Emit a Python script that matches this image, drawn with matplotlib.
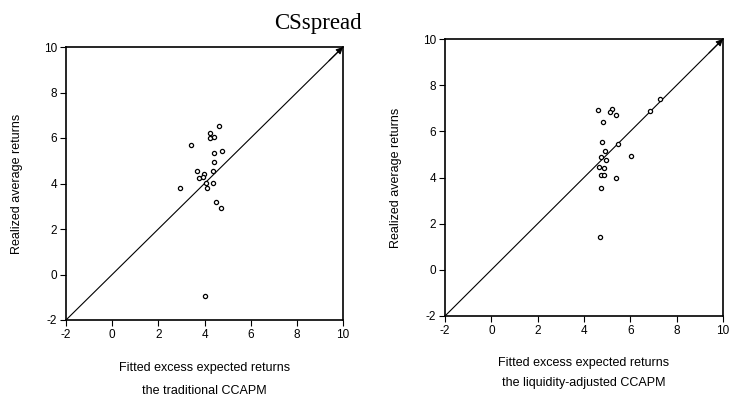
import matplotlib
matplotlib.use("Agg")
import matplotlib.pyplot as plt

# Left panel: traditional CCAPM
trad_fitted = [4.62, 4.24, 4.22, 4.41, 3.41, 4.41, 4.74, 4.42, 3.66, 4.35,
               3.96, 3.77, 3.93, 4.06, 4.35, 4.09, 2.95, 4.48, 4.71, 4.02]
trad_realized = [6.51, 6.24, 5.99, 6.04, 5.69, 5.36, 5.42, 4.95, 4.57, 4.57,
                 4.42, 4.26, 4.28, 4.01, 4.01, 3.81, 3.82, 3.19, 2.94, -0.96]

# Right panel: liquidity-adjusted CCAPM
liq_fitted = [7.30, 6.85, 4.60, 5.23, 5.13, 5.39, 4.84, 4.78, 5.48, 4.90,
              6.01, 4.74, 4.94, 4.66, 4.86, 4.73, 4.87, 5.38, 4.74, 4.67]
liq_realized = [7.40, 6.88, 6.92, 6.95, 6.83, 6.72, 6.40, 5.52, 5.46, 5.14,
                4.94, 4.90, 4.75, 4.45, 4.39, 4.10, 4.10, 3.96, 3.53, 1.41]

lims = [-2, 10]
ticks = [-2, 0, 2, 4, 6, 8, 10]
tick_labels = ["-2", "0", "2", "4", "6", "8", "10"]

W, H = 732, 401
fig = plt.figure(figsize=(W / 100, H / 100), dpi=100)
plt.rcParams['font.family'] = ['Liberation Sans', 'DejaVu Sans']

def px_axes(x0, y0, x1, y1):
    return fig.add_axes([x0 / W, 1 - y1 / H, (x1 - x0) / W, (y1 - y0) / H])

panels = [
    (px_axes(66, 47, 343, 320), trad_fitted, trad_realized,
     "the traditional CCAPM", 17, 368, 391),
    (px_axes(445, 39, 723, 316), liq_fitted, liq_realized,
     "the liquidity-adjusted CCAPM", 396, 363, 383),
]

for ax, xs, ys, sub, ylab_x, l1, l2 in panels:
    ax.plot(lims, lims, color="black", lw=0.8, zorder=2)
    ax.annotate("", xy=(lims[1], lims[1]), xytext=(lims[1] - 0.6, lims[1] - 0.6),
                arrowprops=dict(arrowstyle="-|>", color="black", lw=0.8,
                                mutation_scale=10, shrinkA=0, shrinkB=0),
                annotation_clip=False, zorder=3)
    ax.plot(xs, ys, linestyle="none", marker="o", markersize=3.0,
            markerfacecolor="white", markeredgecolor="black",
            markeredgewidth=0.9, zorder=4)
    ax.set_xlim(lims)
    ax.set_ylim(lims)
    ax.set_xticks(ticks)
    ax.set_xticklabels(tick_labels)
    ax.set_yticks(ticks)
    ax.set_yticklabels(tick_labels)
    ax.tick_params(axis="both", direction="out", length=4, width=0.8,
                   labelsize=8.5, pad=2.5, colors="black")
    for s in ax.spines.values():
        s.set_linewidth(1.2)
        s.set_color("black")
    cx = (ax.get_position().x0 + ax.get_position().x1) / 2
    fig.text(cx, 1 - l1 / H, "Fitted excess expected returns", ha="center",
             va="center", fontsize=9)
    fig.text(cx, 1 - l2 / H, sub, ha="center", va="center", fontsize=9)
    cy = (ax.get_position().y0 + ax.get_position().y1) / 2
    fig.text(ylab_x / W, cy, "Realized average returns", rotation=90,
             ha="center", va="center", fontsize=9)

fig.text(318 / W, 1 - 29 / H, "CSspread", ha="center", va="baseline",
         fontsize=16.5, family=["Liberation Serif", "DejaVu Serif"])

fig.savefig("out.png", dpi=100)
